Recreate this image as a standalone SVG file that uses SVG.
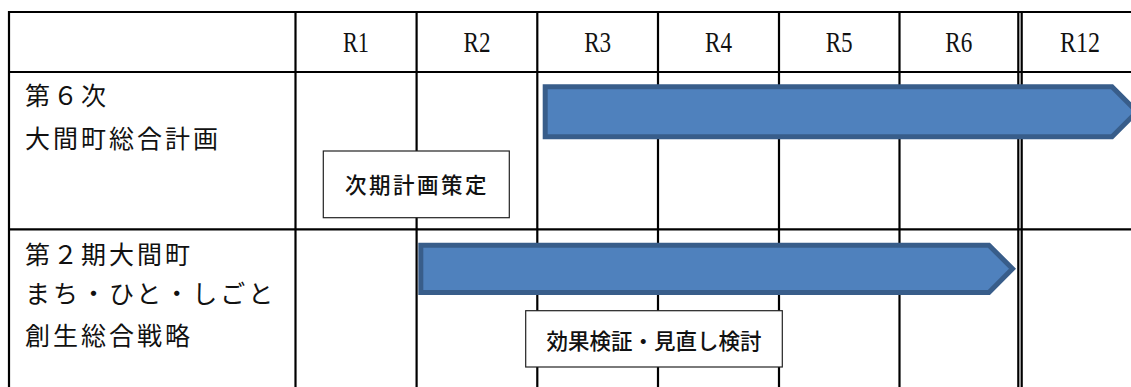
<svg xmlns="http://www.w3.org/2000/svg" width="1131" height="387" viewBox="0 0 1131 387">
<style>
.grid line{stroke:#000;stroke-width:2.2}
.dbl{stroke:#000;stroke-width:1.5}
.hdr{font-family:"Liberation Serif","Noto Sans CJK JP",serif;font-size:30px;fill:#111;text-anchor:middle}
.lbl{font-family:"Noto Sans CJK JP","Noto Sans",sans-serif;font-size:25px;letter-spacing:3px;fill:#111}
.box rect{fill:#fff;stroke:#222;stroke-width:1.2}
.box text{font-family:"Noto Sans CJK JP","Noto Sans",sans-serif;font-weight:500;fill:#111;text-anchor:middle}
.bar{fill:#4F81BD;stroke:#385D8A;stroke-width:5;stroke-linejoin:miter}
</style>
<rect width="1131" height="387" fill="#fff"/>
<g id="table-grid" class="grid">
<line x1="9" y1="12" x2="1131" y2="12"/>
<line x1="9" y1="72" x2="1131" y2="72"/>
<line x1="9" y1="229.3" x2="1131" y2="229.3"/>
<line x1="9" y1="11" x2="9" y2="387"/>
<line x1="295.5" y1="11" x2="295.5" y2="387"/>
<line x1="416.6" y1="11" x2="416.6" y2="387"/>
<line x1="537.3" y1="11" x2="537.3" y2="387"/>
<line x1="658" y1="11" x2="658" y2="387"/>
<line x1="779" y1="11" x2="779" y2="387"/>
<line x1="899.5" y1="11" x2="899.5" y2="387"/>
<line class="dbl" x1="1018.3" y1="11" x2="1018.3" y2="387"/>
<line class="dbl" x1="1021.7" y1="11" x2="1021.7" y2="387"/>
</g>
<g id="headers">
<text class="hdr" x="356" y="52.3" textLength="26" lengthAdjust="spacingAndGlyphs">R1</text>
<text class="hdr" x="477" y="52.3" textLength="27" lengthAdjust="spacingAndGlyphs">R2</text>
<text class="hdr" x="597.7" y="52.3" textLength="27" lengthAdjust="spacingAndGlyphs">R3</text>
<text class="hdr" x="718.5" y="52.3" textLength="27" lengthAdjust="spacingAndGlyphs">R4</text>
<text class="hdr" x="839.2" y="52.3" textLength="27" lengthAdjust="spacingAndGlyphs">R5</text>
<text class="hdr" x="958.8" y="52.3" textLength="27" lengthAdjust="spacingAndGlyphs">R6</text>
<text class="hdr" x="1080" y="52.3" textLength="40" lengthAdjust="spacingAndGlyphs">R12</text>
</g>
<g id="row1-label">
<text class="lbl" x="25" y="105">第６次</text>
<text class="lbl" x="25" y="148">大間町総合計画</text>
</g>
<g id="row2-label">
<text class="lbl" x="25" y="263.5">第２期大間町</text>
<text class="lbl" x="25" y="303">まち・ひと・しごと</text>
<text class="lbl" x="25" y="345">創生総合戦略</text>
</g>
<g id="box-next-plan" class="box">
<rect x="323.3" y="151" width="186" height="66.7"/>
<text x="417" y="193" font-size="21.5" letter-spacing="2.5">次期計画策定</text>
</g>
<g id="box-review" class="box">
<rect x="525.7" y="310.7" width="256.6" height="56.3"/>
<text x="654" y="348.5" font-size="21.5" letter-spacing="0">効果検証・見直し検討</text>
</g>
<g id="bar-plan6">
<path class="bar" d="M545.2,86.8 H1112 L1137,111.8 L1112,136.8 H545.2 Z"/>
</g>
<g id="bar-strategy2">
<path class="bar" d="M420.8,245.2 H988.9 L1012.5,268.8 L988.9,292.5 H420.8 Z"/>
</g>
</svg>
